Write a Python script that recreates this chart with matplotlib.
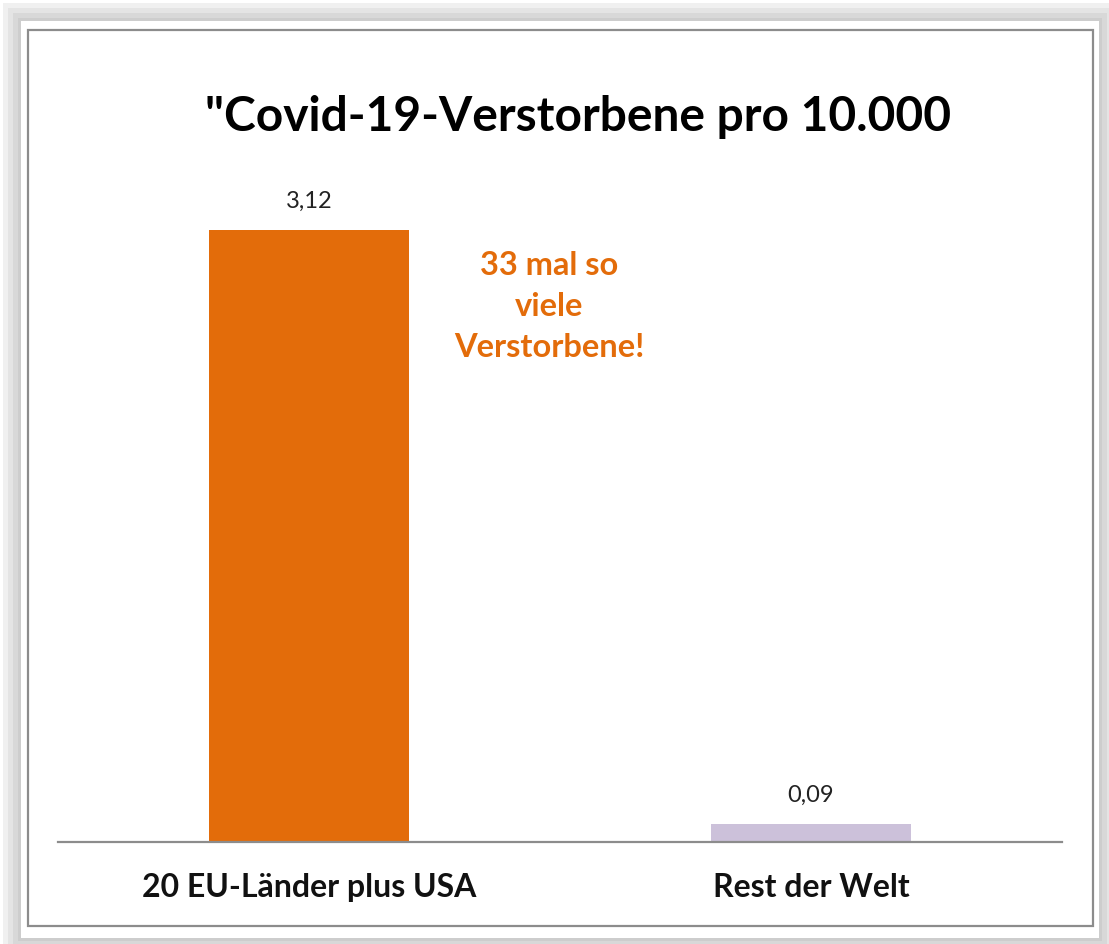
import matplotlib
matplotlib.use("Agg")
import matplotlib.pyplot as plt
from matplotlib.patches import Rectangle

# data
categories = ["20 EU-Länder plus USA", "Rest der Welt"]
values = [3.12, 0.09]
value_labels = ["3,12", "0,09"]
bar_colors = ["#E36C0A", "#CCC1DA"]
title = '"Covid-19-Verstorbene pro 10.000'
note = "33 mal so\nviele\nVerstorbene!"

W, H = 1109, 944
plt.rcParams["font.family"] = ["Lato", "DejaVu Sans"]

fig = plt.figure(figsize=(W / 100, H / 100), dpi=100)
fig.patch.set_facecolor("#ffffff")


def px(x0, y0, x1, y1):
    # pixel box (top-left origin) -> figure fraction rect
    return (x0 / W, 1 - y1 / H, (x1 - x0) / W, (y1 - y0) / H)


# drop shadow around the pasted chart
for i, g in enumerate(["#f0f0f0", "#e4e4e4", "#d8d8d8", "#cdcdcd"]):
    d = 18 - i * 5
    x, y, w, h = px(21 - d, 21 - d, 1099 + d, 938 + d)
    fig.patches.append(Rectangle((x, y), w, h, transform=fig.transFigure,
                                 facecolor=g, edgecolor="none", zorder=0))
x, y, w, h = px(21, 21, 1099, 938)
fig.patches.append(Rectangle((x, y), w, h, transform=fig.transFigure,
                             facecolor="white", edgecolor="none", zorder=1))
x, y, w, h = px(28, 30, 1093, 926)
fig.patches.append(Rectangle((x, y), w, h, transform=fig.transFigure,
                             facecolor="none", edgecolor="#8c8c8c",
                             linewidth=1.6, zorder=2))

# plot area: baseline at y=842, 3.12 reaches y=230
ymax = 3.5
top = 842 - 612 * ymax / 3.12
ax = fig.add_axes(px(58, top, 1062, 842))
ax.set_zorder(3)
ax.patch.set_alpha(0)

xs = range(len(values))
ax.bar(xs, values, width=0.4, color=bar_colors)
ax.set_xlim(-0.5, 1.5)
ax.set_ylim(0, ymax)
for xi, v, lab in zip(xs, values, value_labels):
    ax.annotate(lab, (xi, v), xytext=(0, 13), textcoords="offset points",
                ha="center", va="bottom", fontsize=17, color="#222222")

for s in ["top", "right", "left"]:
    ax.spines[s].set_visible(False)
ax.spines["bottom"].set_color("#8c8c8c")
ax.spines["bottom"].set_linewidth(1.6)
ax.set_yticks([])
ax.set_xticks(list(xs))
ax.set_xticklabels(categories, fontsize=23, fontweight="bold", color="#111111")
ax.tick_params(axis="x", length=0, pad=22)

ax.text(0.478, 2.73, note, ha="center", va="center", fontsize=23.5,
        fontweight="bold", color="#E36C0A", linespacing=1.5)

fig.text(578 / W, 1 - 117 / H, title, ha="center", va="center",
         fontsize=34.5, fontweight="bold", color="#000000")

fig.savefig("out.png", dpi=100)
